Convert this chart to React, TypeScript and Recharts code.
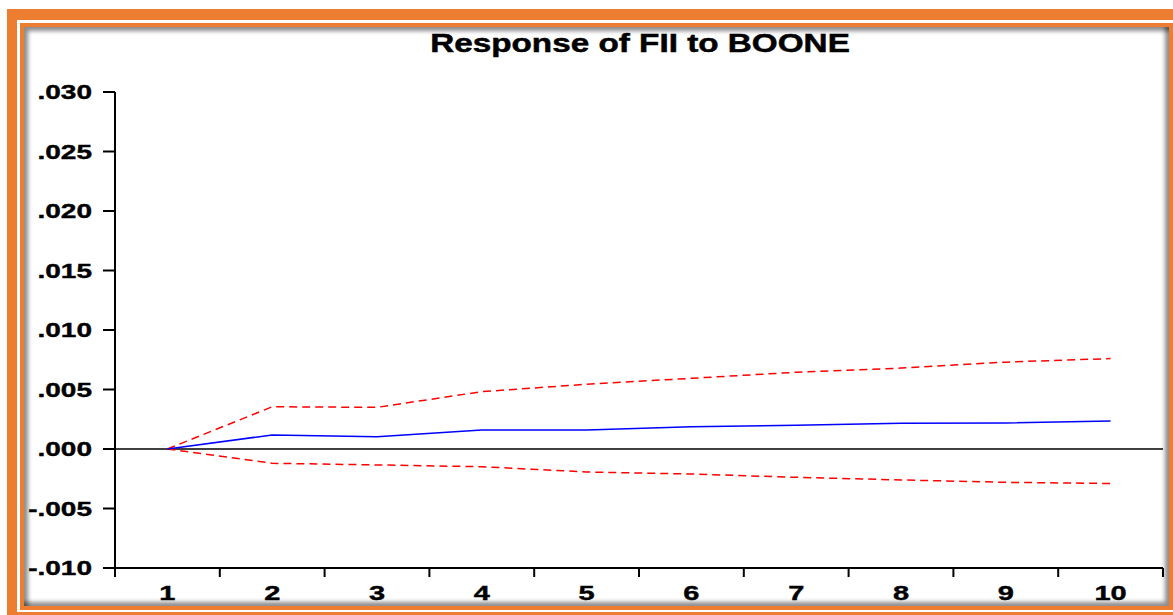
import { LineChart, Line, XAxis, YAxis, ReferenceLine } from "recharts";

// impulse response, periods 1..10
const periods = [1, 2, 3, 4, 5, 6, 7, 8, 9, 10];
const response = [0, 0.00118, 0.00103, 0.0016, 0.0016, 0.00187, 0.002, 0.00216, 0.00218, 0.00235];
const upperBand = [0, 0.00355, 0.0035, 0.00482, 0.00544, 0.00594, 0.00645, 0.0068, 0.0073, 0.0076];
const lowerBand = [0, -0.0012, -0.00134, -0.00149, -0.00193, -0.0021, -0.00238, -0.0026, -0.0028, -0.0029];

const yTicks = [-0.01, -0.005, 0, 0.005, 0.01, 0.015, 0.02, 0.025, 0.03];
const yTickLabels = ["-.010", "-.005", ".000", ".005", ".010", ".015", ".020", ".025", ".030"];
const xTickLabels = ["1", "2", "3", "4", "5", "6", "7", "8", "9", "10"];
const xBoundaries = [0.5, 1.5, 2.5, 3.5, 4.5, 5.5, 6.5, 7.5, 8.5, 9.5, 10.5];

const data = periods.map((p, i) => ({
  period: p,
  response: response[i],
  upper: upperBand[i],
  lower: lowerBand[i],
}));

const FONT = "'Liberation Sans', Arial, sans-serif";
const ORANGE = "#ED7D31";

function YTick(props: any) {
  const { x, y, index } = props;
  return (
    <g transform={`translate(${x},${y + 7}) scale(1.4,1)`}>
      <text x={0} y={0} textAnchor="end" fontFamily={FONT} fontWeight="bold" fontSize={20} fill="#000" stroke="#000" strokeWidth={0.4}>
        {yTickLabels[index]}
      </text>
    </g>
  );
}

function XTick(props: any) {
  const { x, y, index } = props;
  return (
    <g transform={`translate(${x},${y + 23}) scale(1.45,1)`}>
      <text x={0} y={0} textAnchor="middle" fontFamily={FONT} fontWeight="bold" fontSize={20} fill="#000" stroke="#000" strokeWidth={0.4}>
        {xTickLabels[index]}
      </text>
    </g>
  );
}

// tick lines only, no label
function NoLabel() {
  return <g />;
}

export default function App() {
  return (
    <div style={{ position: "absolute", left: 0, top: 0, width: 1173, height: 615, overflow: "hidden", background: "#fff" }}>
      {/* orange double frame */}
      <div style={{ position: "absolute", left: 7, top: 9, width: 1180, height: 620, background: ORANGE }} />
      <div style={{ position: "absolute", left: 17, top: 20, width: 1160, height: 592, background: "#fff" }} />
      <div style={{ position: "absolute", left: 20, top: 23, width: 1153, height: 587, background: ORANGE }} />
      <div
        style={{
          position: "absolute",
          left: 24,
          top: 27,
          width: 1145,
          height: 579,
          background: "#fff",
          boxShadow: "inset 4px 4px 4px rgba(0,0,0,0.45), inset -4px -4px 4px rgba(0,0,0,0.45)",
        }}
      />

      <div style={{ position: "absolute", left: 0, top: 0 }}>
        <LineChart width={1173} height={615} data={data} margin={{ top: 92, right: 10, bottom: 0, left: 0 }}>
          <XAxis
            xAxisId="top"
            orientation="top"
            type="number"
            dataKey="period"
            domain={[0.5, 10.5]}
            height={0}
            tick={false}
            tickLine={false}
            axisLine={{ stroke: "#000", strokeWidth: 1.5 }}
          />
          <XAxis
            xAxisId="b"
            type="number"
            dataKey="period"
            domain={[0.5, 10.5]}
            ticks={xBoundaries}
            interval={0}
            tick={<NoLabel />}
            tickSize={9}
            height={1}
            axisLine={{ stroke: "#000", strokeWidth: 2 }}
            tickLine={{ stroke: "#000", strokeWidth: 2 }}
          />
          <XAxis
            xAxisId="lbl"
            type="number"
            dataKey="period"
            domain={[0.5, 10.5]}
            ticks={periods}
            interval={0}
            height={46}
            tickLine={false}
            axisLine={false}
            tick={<XTick />}
          />
          <YAxis
            yAxisId="l"
            type="number"
            domain={[-0.01, 0.03]}
            ticks={yTicks}
            interval={0}
            width={115}
            tickSize={12}
            tickMargin={11}
            tick={<YTick />}
            axisLine={{ stroke: "#000", strokeWidth: 2 }}
            tickLine={{ stroke: "#000", strokeWidth: 2 }}
          />
          <YAxis
            yAxisId="r"
            orientation="right"
            type="number"
            domain={[-0.01, 0.03]}
            width={0}
            tick={false}
            tickLine={false}
            axisLine={{ stroke: "#000", strokeWidth: 2 }}
          />
          <ReferenceLine xAxisId="b" yAxisId="l" y={0} stroke="#000" strokeWidth={1.5} />
          <Line
            xAxisId="b"
            yAxisId="l"
            dataKey="upper"
            type="linear"
            stroke="#FF0000"
            strokeWidth={1.5}
            strokeDasharray="8 5"
            dot={false}
            isAnimationActive={false}
          />
          <Line
            xAxisId="b"
            yAxisId="l"
            dataKey="lower"
            type="linear"
            stroke="#FF0000"
            strokeWidth={1.5}
            strokeDasharray="8 5"
            dot={false}
            isAnimationActive={false}
          />
          <Line
            xAxisId="b"
            yAxisId="l"
            dataKey="response"
            type="linear"
            stroke="#0000FF"
            strokeWidth={1.5}
            dot={false}
            isAnimationActive={false}
          />
        </LineChart>
      </div>

      <svg width={1173} height={615} style={{ position: "absolute", left: 0, top: 0, pointerEvents: "none" }}>
        <g transform="translate(640,52) scale(1.28,1)">
          <text x={0} y={0} textAnchor="middle" fontFamily={FONT} fontWeight="bold" fontSize={26} fill="#000" stroke="#000" strokeWidth={0.5}>
            Response of FII to BOONE
          </text>
        </g>
      </svg>
    </div>
  );
}
